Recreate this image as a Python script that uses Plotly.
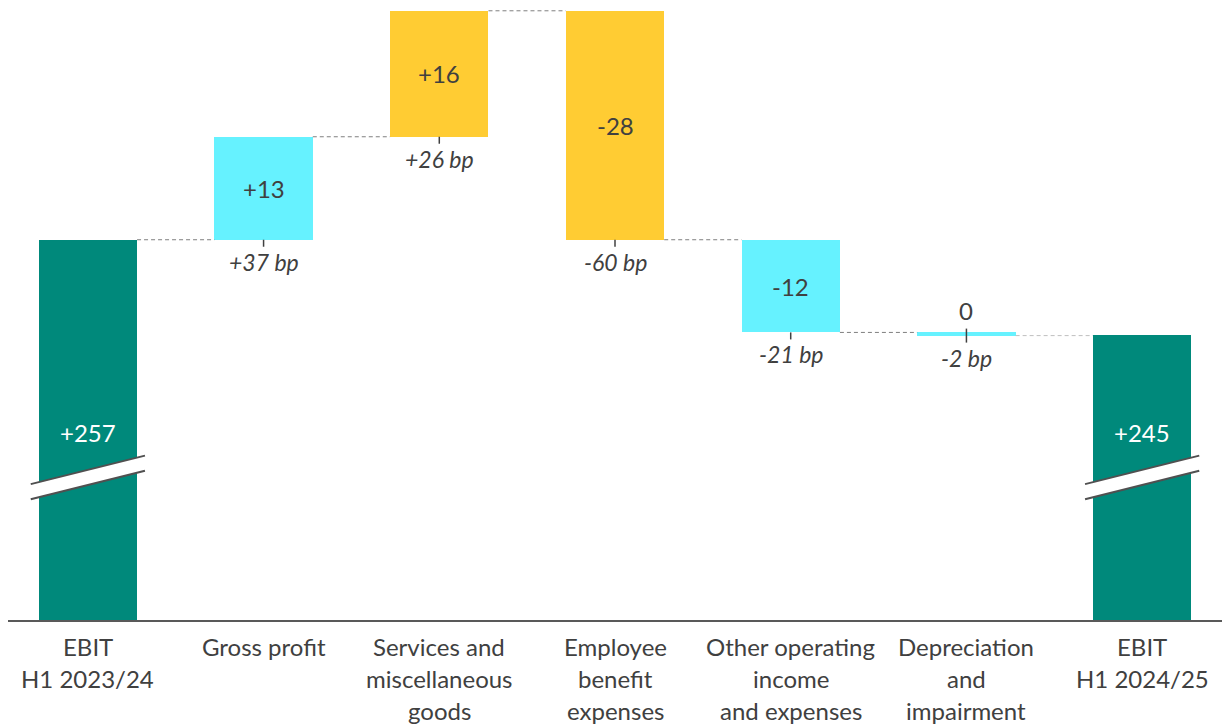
import plotly.graph_objects as go

# ================= data =================
categories = [
    "EBIT<br>H1 2023/24",
    "Gross profit",
    "Services and<br>miscellaneous<br>goods",
    "Employee<br>benefit<br>expenses",
    "Other operating<br>income<br>and expenses",
    "Depreciation<br>and<br>impairment",
    "EBIT<br>H1 2024/25",
]
start_value = 257.0
deltas = [13.0, 15.9, -28.9, -11.7, -0.4]
end_value = 245.0
value_labels = ["+257", "+13", "+16", "-28", "-12", "0", "+245"]
bp_labels = ["+37 bp", "+26 bp", "-60 bp", "-21 bp", "-2 bp"]
delta_colors = ["#66F2FF", "#FFCC33", "#FFCC33", "#66F2FF", "#66F2FF"]

# broken axis: the totals start at this level instead of 0
AXIS_BREAK = 209
AXIS_TOP = 286
BREAK_LEVEL = 227
BREAK_RISE = 3.6
BREAK_GAP = 1.9
TOTAL_LABEL_LEVEL = 232.7

TEAL = "#00897B"
TEXT = "#404040"
FONT = "Lato"
BAR_W = 0.56

# ================= derived levels =================
levels = [start_value]
for d in deltas:
    levels.append(levels[-1] + d)
bases = [AXIS_BREAK] + levels[:-1] + [AXIS_BREAK]
heights = [start_value - AXIS_BREAK] + deltas + [end_value - AXIS_BREAK]
colors = [TEAL] + delta_colors + [TEAL]
xs = list(range(len(categories)))

fig = go.Figure()
fig.add_trace(go.Bar(
    x=xs, y=heights, base=bases,
    marker=dict(color=colors, line=dict(width=0)),
    width=BAR_W, hoverinfo="skip", showlegend=False,
))

# dashed connectors between bar tops
for i in range(len(categories) - 1):
    lvl = levels[i]
    fig.add_trace(go.Scatter(
        x=[i + BAR_W / 2, i + 1 - BAR_W / 2], y=[lvl, lvl], mode="lines",
        line=dict(color="#7F7F7F" if i < 5 else "#BFBFBF", width=1, dash="4px,3px"),
        cliponaxis=False, hoverinfo="skip", showlegend=False,
    ))

shapes = []
annotations = []

# value labels
for i, (b, h, lab) in enumerate(zip(bases, heights, value_labels)):
    is_total = i in (0, len(categories) - 1)
    if is_total:
        annotations.append(dict(x=i, y=TOTAL_LABEL_LEVEL, text=lab, showarrow=False,
                                yanchor="middle",
                                font=dict(family=FONT, size=24, color="white")))
    elif abs(h) < 1:
        annotations.append(dict(x=i, y=max(b, b + h), text=lab, showarrow=False,
                                yanchor="middle", yshift=22,
                                font=dict(family=FONT, size=24, color=TEXT)))
    else:
        annotations.append(dict(x=i, y=b + h / 2, text=lab, showarrow=False,
                                yanchor="middle",
                                font=dict(family=FONT, size=24, color=TEXT)))

# bp labels + small ticks under the delta bars
for k, lab in enumerate(bp_labels):
    i = k + 1
    bottom = min(bases[i], bases[i] + heights[i])
    annotations.append(dict(x=i, y=bottom, text="<i>" + lab + "</i>", showarrow=False,
                            yanchor="middle", yshift=-22,
                            font=dict(family=FONT, size=23, color=TEXT)))
    shapes.append(dict(type="line", xref="x", yref="y", x0=i, x1=i,
                       ysizemode="pixel", yanchor=bottom, y0=-7, y1=7 if abs(heights[i]) < 1 else 0,
                       line=dict(color=TEXT, width=1.5), layer="above"))

# axis-break marks on the total bars
for i in (0, len(categories) - 1):
    x0, x1 = i - 0.325, i + 0.325
    yl, yr = BREAK_LEVEL - BREAK_RISE / 2, BREAK_LEVEL + BREAK_RISE / 2
    g = BREAK_GAP / 2
    shapes.append(dict(type="path", xref="x", yref="y",
                       path=f"M {x0},{yl - g} L {x1},{yr - g} L {x1},{yr + g} L {x0},{yl + g} Z",
                       fillcolor="white", line=dict(width=0), layer="above"))
    for s in (-g, g):
        shapes.append(dict(type="line", xref="x", yref="y", x0=x0, x1=x1,
                           y0=yl + s, y1=yr + s,
                           line=dict(color="#505050", width=2), layer="above"))

# category labels, one annotation per line
for i, cat in enumerate(categories):
    for j, line in enumerate(cat.split("<br>")):
        annotations.append(dict(x=i, xref="x", y=0, yref="paper", text=line,
                                showarrow=False, yanchor="middle", yshift=-26 - 32 * j,
                                font=dict(family=FONT, size=24, color=TEXT)))

# page body has an 8px margin, so the figure is 8px smaller and the x range starts a bit in
fig.update_layout(
    width=1222, height=716,
    margin=dict(l=0, r=0, t=2, b=104),
    paper_bgcolor="white", plot_bgcolor="white",
    shapes=shapes, annotations=annotations,
    bargap=0,
)
fig.update_xaxes(range=[-0.5 + 8 / (1230 / 7), 6.5], showticklabels=False, showgrid=False,
                 zeroline=False, showline=True, linecolor="#595959", linewidth=2, fixedrange=True)
fig.update_yaxes(range=[AXIS_BREAK, AXIS_TOP], visible=False, fixedrange=True)

fig.write_html("out.html")
